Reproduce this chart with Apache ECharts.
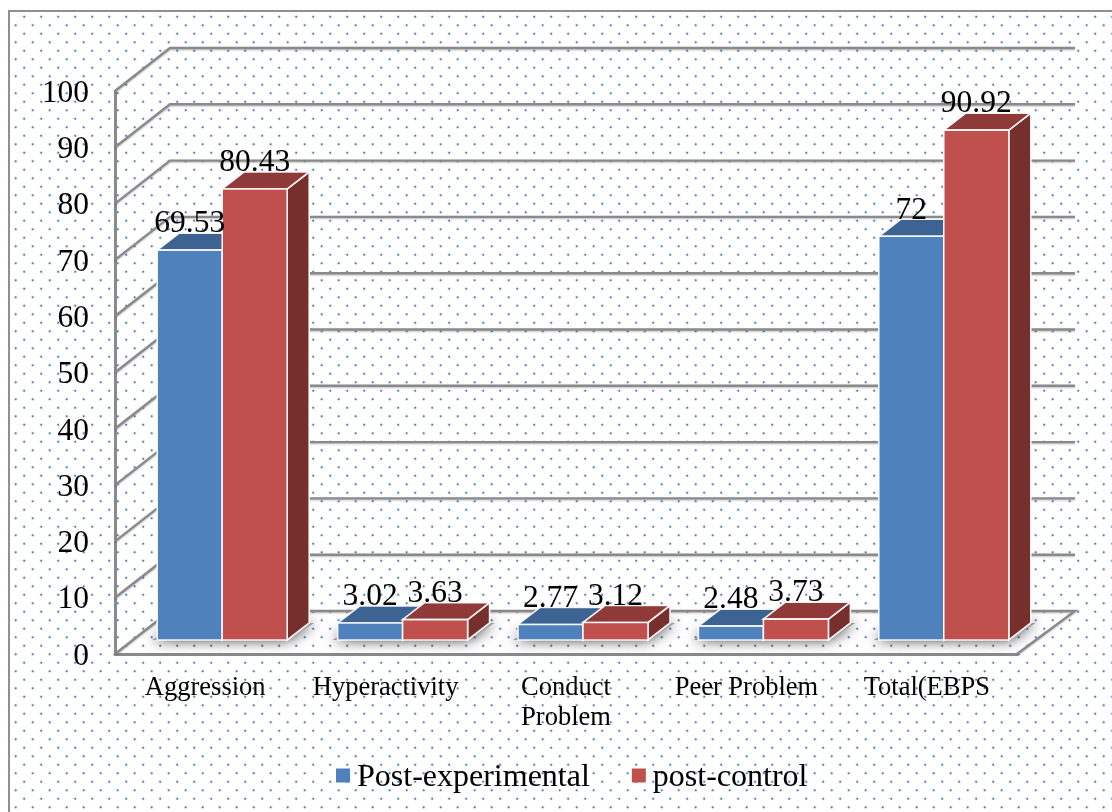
<!DOCTYPE html>
<html>
<head>
<meta charset="utf-8">
<style>html,body{margin:0;padding:0;background:#fff}#chart{width:1112px;height:812px}</style>
<script src="https://cdn.jsdelivr.net/npm/echarts@6/dist/echarts.min.js"></script>
</head>
<body>
<div id="chart"></div>
<script>
const categories = ['Aggression', 'Hyperactivity', 'Conduct\nProblem', 'Peer Problem', 'Total(EBPS'];
const postExperimental = [69.53, 3.02, 2.77, 2.48, 72];
const postControl = [80.43, 3.63, 3.12, 3.73, 90.92];
const yTicks = [0, 10, 20, 30, 40, 50, 60, 70, 80, 90, 100];

const SERIF = '"Liberation Serif", "Times New Roman", serif';
const GRID_LINE = '#8a8a8a';

// Oblique projection used for the pseudo-3D box: wall depth and bar placement.
const WALL = { dx: 55, dy: -43 };
const BAR = { width: 65, dx: 22, dy: -17, floorX: 17, floorY: -14 };

function dotTile() {
  const c = document.createElement('canvas');
  c.width = 17; c.height = 17;
  const g = c.getContext('2d');
  const dot = (x, y) => {
    g.fillStyle = 'rgba(79,129,189,0.16)';
    g.beginPath(); g.arc(x, y, 1.8, 0, Math.PI * 2); g.fill();
    g.fillStyle = '#4a7fc0';
    g.beginPath(); g.arc(x, y, 1.0, 0, Math.PI * 2); g.fill();
  };
  dot(15.2, 5.8);
  dot(6.7, 14.3);
  return c;
}

function poly(points, fill) {
  return {
    type: 'polygon',
    shape: { points },
    style: { fill, stroke: 'rgba(255,255,255,0.9)', lineWidth: 1.6 }
  };
}

// One box: top and side parallelograms plus the front face, with its value text.
function boxRenderer(side, colors) {
  return function (params, api) {
    const cat = api.value(0), val = api.value(1);
    const base = api.coord([cat, 0]);
    const top = api.coord([cat, val]);
    const x0 = base[0] + BAR.floorX + (side === 0 ? -BAR.width : 0);
    const x1 = x0 + BAR.width;
    const yB = base[1] + BAR.floorY;
    const yT = top[1] + BAR.floorY;
    const dx = BAR.dx, dy = BAR.dy;
    return {
      type: 'group',
      children: [
        poly([[x1, yT], [x1 + dx, yT + dy], [x1 + dx, yB + dy], [x1, yB]], colors.side),
        poly([[x0, yT], [x0 + dx, yT + dy], [x1 + dx, yT + dy], [x1, yT]], colors.top),
        poly([[x0, yT], [x1, yT], [x1, yB], [x0, yB]], colors.front),
        {
          type: 'text',
          z2: 100,
          style: {
            text: String(val),
            x: (x0 + x1) / 2,
            y: yT - 26,
            align: 'center',
            verticalAlign: 'middle',
            font: '31.5px ' + SERIF,
            fill: '#000'
          }
        }
      ]
    };
  };
}

const chart = echarts.init(document.getElementById('chart'), null, { renderer: 'canvas' });

chart.setOption({
  animation: false,
  backgroundColor: '#fff',
  graphic: [{
    type: 'rect',
    x: 9, y: 11,
    z: 0,
    silent: true,
    shape: { x: 0, y: 0, width: 1200, height: 900 },
    style: { fill: { image: dotTile(), repeat: 'repeat' }, stroke: '#8f8f8f', lineWidth: 2 }
  }],
  grid: { left: 115, top: 91, width: 902, height: 563 },
  legend: {
    data: ['Post-experimental', 'post-control'],
    left: 331,
    top: 757,
    icon: 'rect',
    itemWidth: 14,
    itemHeight: 14,
    itemGap: 42,
    formatter: '{t|{name}}',
    textStyle: {
      rich: { t: { fontFamily: SERIF, fontSize: 32, color: '#000', padding: [5, 0, 0, 2] } }
    }
  },
  xAxis: {
    type: 'category',
    data: categories,
    axisLine: { lineStyle: { color: GRID_LINE, width: 3 } },
    axisTick: { show: false },
    axisLabel: {
      interval: 0, margin: 19,
      fontFamily: SERIF, fontSize: 26.5, color: '#000', lineHeight: 30
    }
  },
  yAxis: [
    {
      type: 'value',
      min: 0, max: 100, interval: 10,
      splitLine: { show: false },
      axisLine: { show: true, lineStyle: { color: GRID_LINE, width: 3 } },
      axisTick: { show: false },
      axisLabel: {
        margin: 26,
        formatter: '{v|{value}}',
        rich: { v: { fontFamily: SERIF, fontSize: 31.5, color: '#000', padding: [5, 0, 0, 0] } }
      }
    },
    // Scale of the boxes: set back from the front plane, so a touch shorter per unit.
    { type: 'value', show: false, min: 0, max: 100.4, splitLine: { show: false } }
  ],
  series: [
    {
      // Side wall and back wall lines, one per tick, plus the floor outline.
      type: 'custom',
      name: 'walls',
      z: 1,
      silent: true,
      data: yTicks.map(t => [0, t]),
      renderItem(params, api) {
        const cs = params.coordSys;
        const y = api.coord([0, api.value(1)])[1];
        const left = cs.x, right = cs.x + cs.width;
        const lineStyle = {
          fill: null, stroke: GRID_LINE, lineWidth: 2.4,
          shadowColor: 'rgba(0,0,0,0.25)', shadowBlur: 2, shadowOffsetY: 1
        };
        const pts = [[left, y], [left + WALL.dx, y + WALL.dy], [right + 3 + WALL.dx, y + WALL.dy]];
        if (api.value(1) === 0) pts.push([right, y]);
        return { type: 'polyline', shape: { points: pts }, style: lineStyle };
      }
    },
    {
      // Soft shadow each pair of boxes throws on the floor.
      type: 'custom',
      name: 'floor-shadow',
      z: 1,
      silent: true,
      data: categories.map((c, i) => [i, 0]),
      renderItem(params, api) {
        const base = api.coord([api.value(0), 0]);
        const x0 = base[0] + BAR.floorX - BAR.width, x1 = base[0] + BAR.floorX + BAR.width;
        const y = base[1] + BAR.floorY;
        return {
          type: 'polygon',
          shape: { points: [[x0 - 5, y], [x1, y], [x1 + BAR.dx + 5, y + BAR.dy], [x0 + BAR.dx, y + BAR.dy]] },
          style: { fill: '#9a9a9a', shadowColor: 'rgba(0,0,0,0.8)', shadowBlur: 14 }
        };
      }
    },
    {
      type: 'custom',
      name: 'Post-experimental',
      yAxisIndex: 1,
      z: 3,
      itemStyle: { color: '#4f81bd' },
      data: postExperimental.map((v, i) => [i, v]),
      renderItem: boxRenderer(0, { front: '#4f81bd', top: '#3c6391', side: '#2f4e73' })
    },
    {
      type: 'custom',
      name: 'post-control',
      yAxisIndex: 1,
      z: 3,
      itemStyle: { color: '#c0504d' },
      data: postControl.map((v, i) => [i, v]),
      renderItem: boxRenderer(1, { front: '#c0504d', top: '#8f3a38', side: '#772f2e' })
    }
  ]
});
</script>
</body>
</html>
